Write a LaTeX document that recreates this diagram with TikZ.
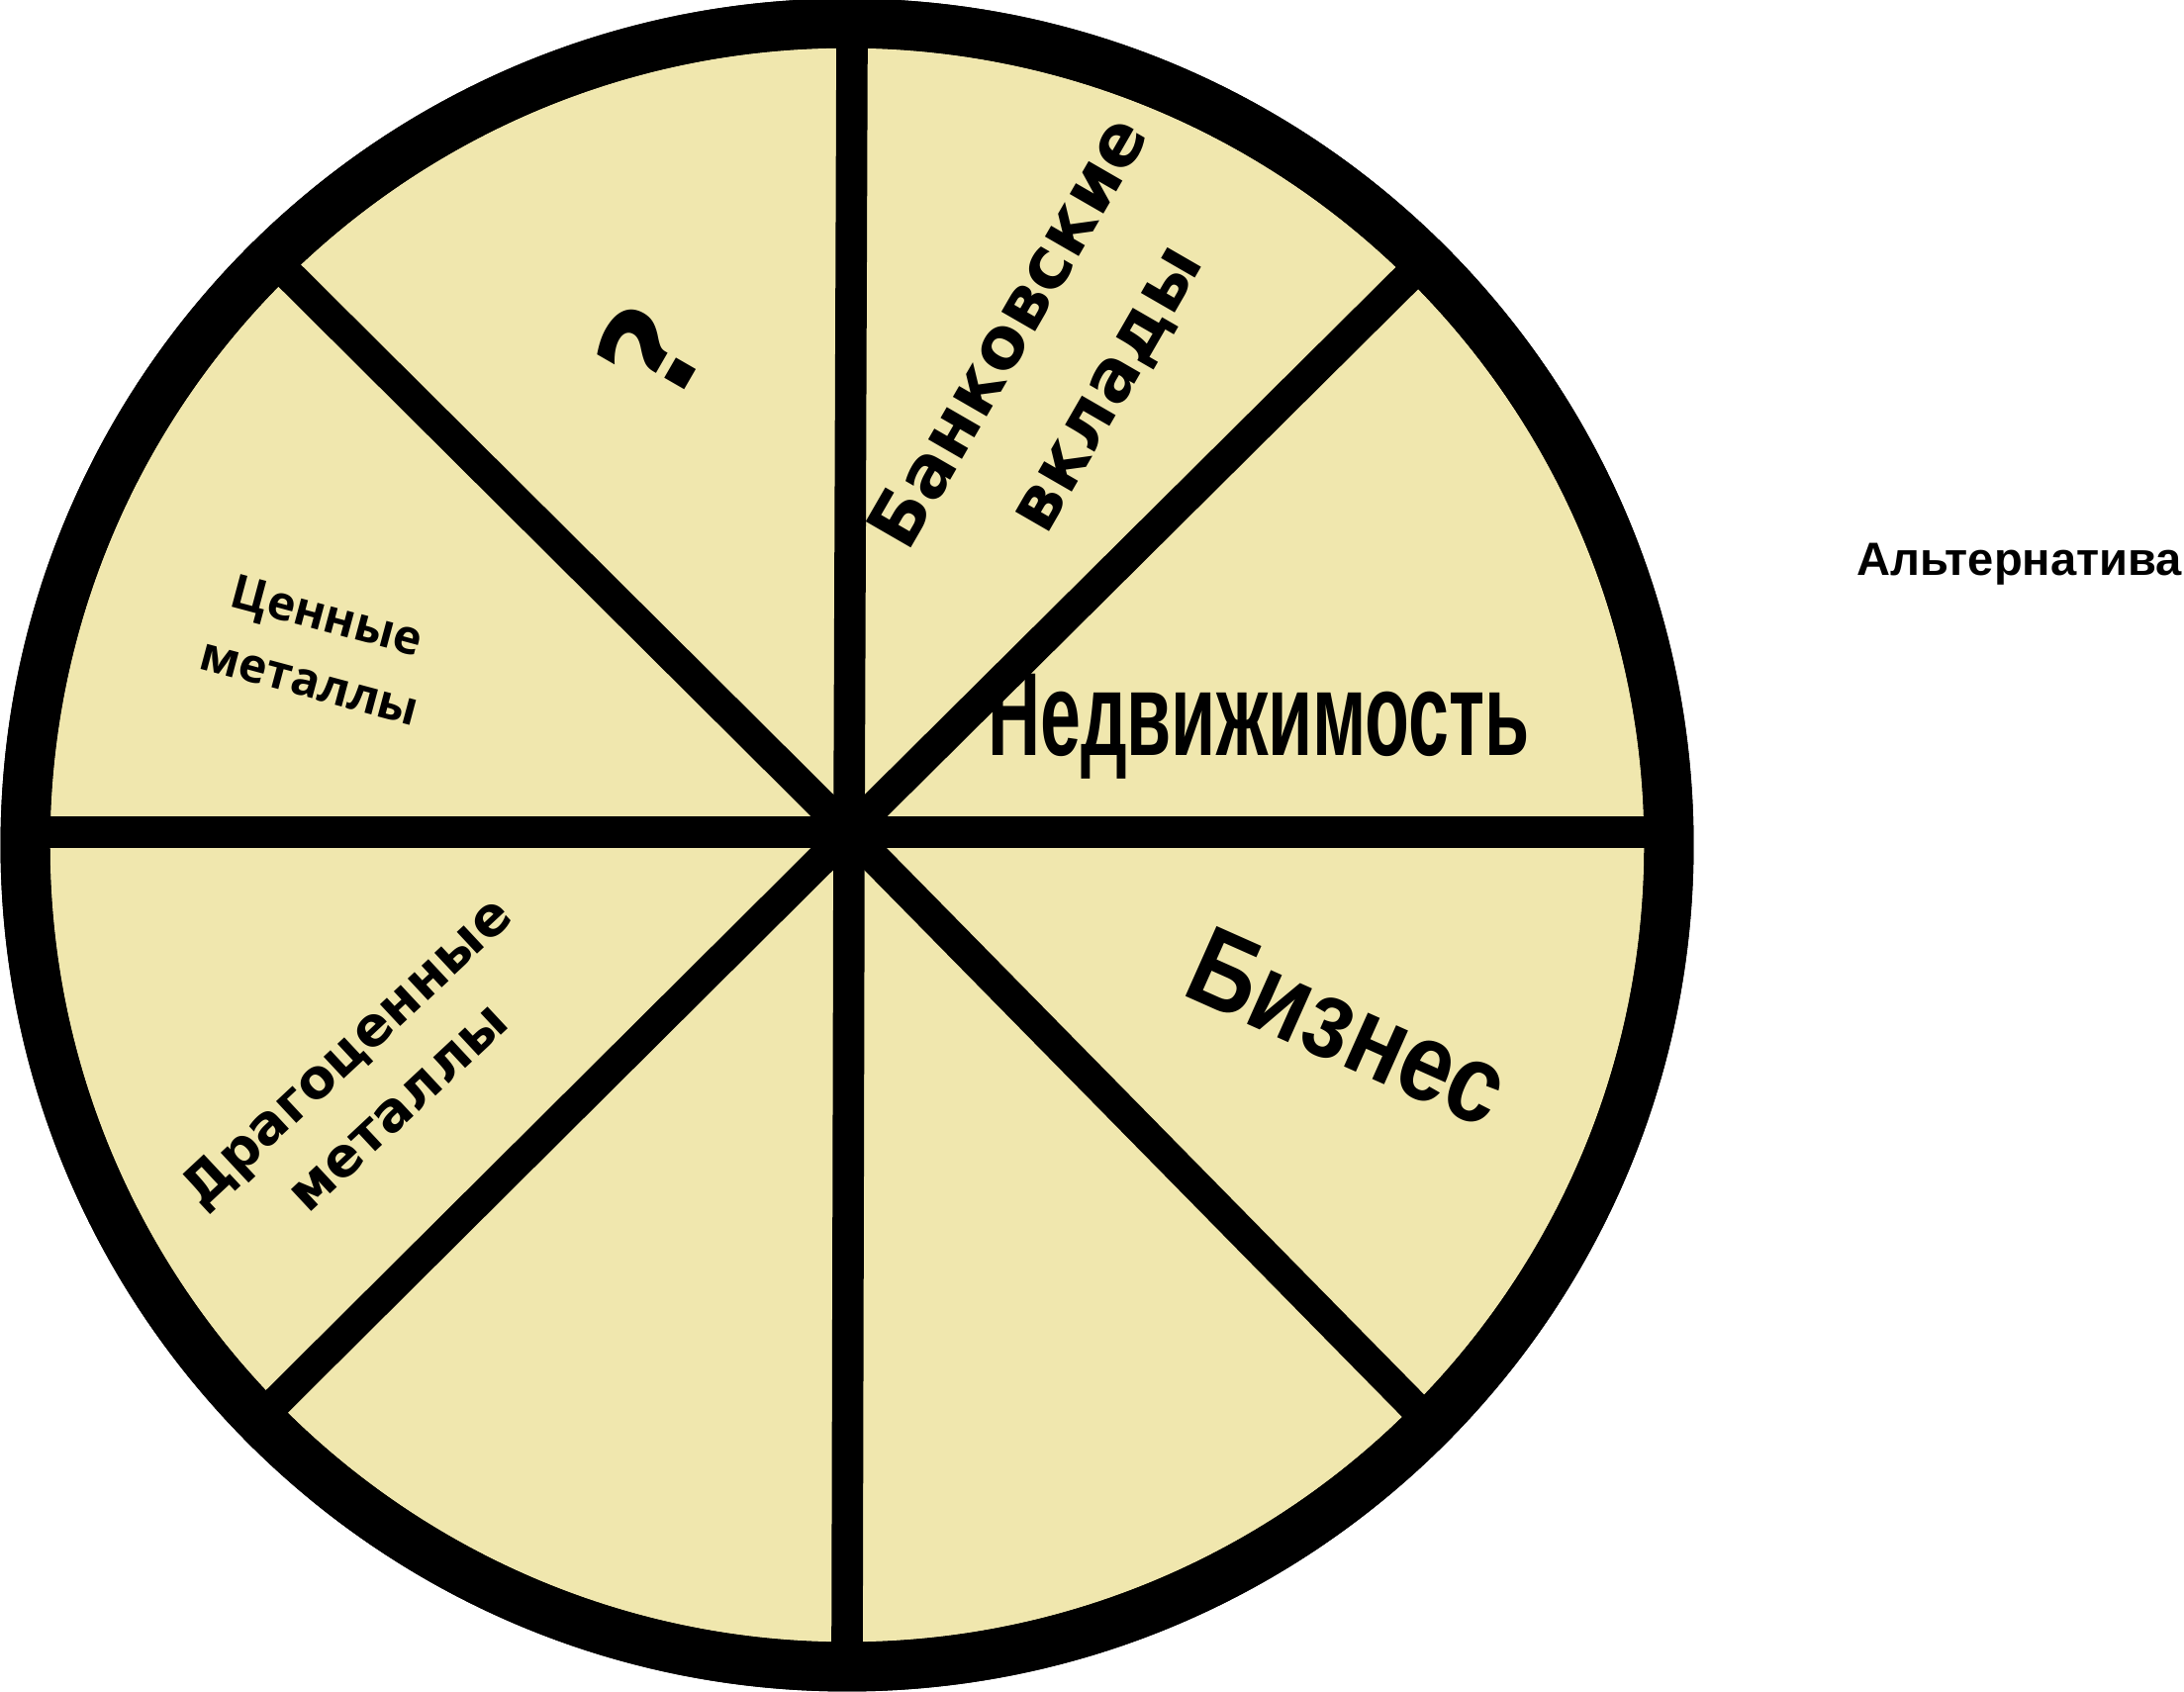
\documentclass[tikz,border=0pt]{standalone}
\usepackage{fontspec}
\newfontfamily\dejavu{DejaVu Sans}
\newfontfamily\opensans{Open Sans}
\newfontfamily\libsans{Liberation Sans}
\definecolor{piefill}{HTML}{F0E7AE}
\begin{document}
\begin{tikzpicture}[x=0.01cm,y=-0.01cm,
  divider/.style={line width=9pt, black},
  ring/.style={line width=14.2pt, draw=black, fill=piefill},
  lbl/.style={inner sep=0pt, align=center, text=black}]
\useasboundingbox (0,0) rectangle (2207,1710);
% disc
\path[ring] (856,854) circle[radius=8.30cm];
% centre and spoke ends
\coordinate (C) at (858,841);
\coordinate (N) at (861,40);
\coordinate (S) at (856,1668);
\coordinate (W) at (30,841);
\coordinate (E) at (1688,841);
\coordinate (NW) at (275,261);
\coordinate (NE) at (1437,266);
\coordinate (SW) at (259,1437);
\coordinate (SE) at (1444,1437);
\draw[divider] (N) -- (C) -- (S);
\draw[divider] (W) -- (E);
\draw[divider] (NW) -- (C) -- (SE);
\draw[divider] (NE) -- (C) -- (SW);
% ring on top
\draw[line width=14.2pt] (856,854) circle[radius=8.30cm];
% labels
\node[lbl, rotate=60, font=\dejavu\bfseries\fontsize{38}{44}\selectfont] (q) at (657,355) {?};
\node[lbl, rotate=60, font=\dejavu\bfseries\fontsize{20.5}{32}\selectfont] (bank) at (1070,365) {Банковские\\вклады};
\node[lbl, rotate=-15, font=\opensans\bfseries\fontsize{13.6}{19.5}\selectfont] (cen) at (322,655) {Ценные\\металлы};
\node[lbl, xscale=0.615, font=\libsans\bfseries\fontsize{34}{40}\selectfont, anchor=base] (ned) at (1272,763) {Недвижимость};
\node[lbl, rotate=-24, xscale=0.85, font=\libsans\bfseries\fontsize{32}{38}\selectfont] (biz) at (1362,1038) {Бизнес};
\node[lbl, rotate=43, font=\dejavu\bfseries\fontsize{15.6}{21.6}\selectfont] (drag) at (375,1090) {Драгоценные\\металлы};
\node[lbl, font=\libsans\bfseries\fontsize{13.4}{16}\selectfont] (alt) at (2041,570) {Альтернатива};
\end{tikzpicture}
\end{document}
